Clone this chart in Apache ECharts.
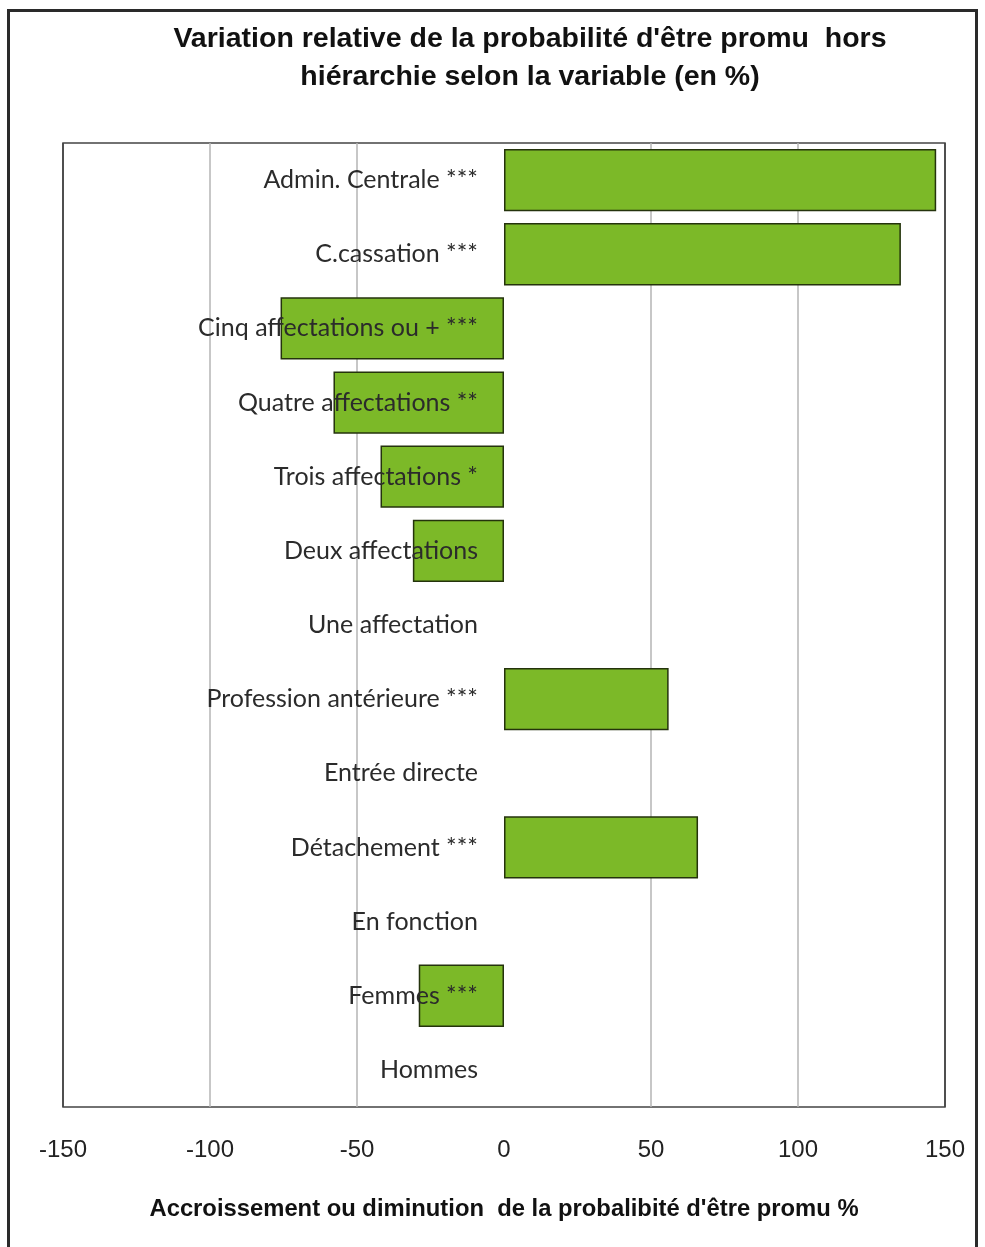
<!DOCTYPE html>
<html>
<head>
<meta charset="utf-8">
<script src="https://cdn.jsdelivr.net/npm/echarts@6/dist/echarts.min.js"></script>
<style>
html,body{margin:0;padding:0;background:#fff;}
#frame{position:absolute;left:7px;top:9px;width:971px;height:1260px;border:3px solid #2a2a2a;box-sizing:border-box;}
#chart{position:absolute;left:0;top:0;width:985px;height:1247px;}
</style>
</head>
<body>
<div id="frame"></div>
<div id="chart"></div>
<script>
const titleText = "Variation relative de la probabilité d'être promu  hors\nhiérarchie selon la variable (en %)";
const xAxisName = "Accroissement ou diminution  de la probalibité d'être promu %";
const categories = [
  "Admin. Centrale ***",
  "C.cassation ***",
  "Cinq affectations ou + ***",
  "Quatre affectations **",
  "Trois affectations *",
  "Deux affectations",
  "Une affectation",
  "Profession antérieure ***",
  "Entrée directe",
  "Détachement ***",
  "En fonction",
  "Femmes ***",
  "Hommes"
];
const values = [147, 135, -76, -58, -42, -31, 0, 56, 0, 66, 0, -29, 0];
const xMin = -150, xMax = 150, xInterval = 50;

const chart = echarts.init(document.getElementById('chart'), null, {renderer: 'canvas'});
const seriesData = values.map(v => v === 0 ? {value: 0, itemStyle: {borderWidth: 0}} : v);

chart.setOption({
  animation: false,
  backgroundColor: 'transparent',
  title: {
    text: titleText,
    left: 525,
    textAlign: 'center',
    top: 15,
    textStyle: {
      fontFamily: '"Liberation Sans", Arial, sans-serif',
      fontWeight: 'bold',
      fontSize: 28.5,
      lineHeight: 38,
      color: '#111'
    }
  },
  grid: {
    left: 63, right: 40, top: 143, bottom: 140,
    show: true, borderColor: '#444', borderWidth: 1.5, backgroundColor: 'transparent'
  },
  xAxis: {
    type: 'value',
    min: xMin, max: xMax, interval: xInterval,
    name: xAxisName,
    nameLocation: 'middle',
    nameGap: 90,
    nameTextStyle: {
      fontFamily: '"Liberation Sans", Arial, sans-serif',
      fontWeight: 'bold', fontSize: 23.8, color: '#111'
    },
    axisLine: {show: false},
    axisTick: {show: false},
    axisLabel: {
      margin: 31,
      fontFamily: '"Liberation Sans", Arial, sans-serif',
      fontSize: 24, color: '#222'
    },
    splitLine: {
      show: true,
      lineStyle: {color: ['#444', '#b5b5b5', '#b5b5b5', 'rgba(0,0,0,0)', '#b5b5b5', '#b5b5b5', '#444'], width: 1.5}
    }
  },
  yAxis: {
    type: 'category',
    data: categories,
    inverse: true,
    z: 10,
    axisLine: {show: false},
    axisTick: {show: false},
    axisLabel: {
      margin: -415,
      fontFamily: 'Lato, "Open Sans", sans-serif',
      fontSize: 25,
      color: '#2b2b2b'
    },
    splitLine: {show: false}
  },
  series: [{
    type: 'bar',
    data: seriesData,
    barWidth: '84%',
    itemStyle: {color: '#7cb928', borderColor: '#24330c', borderWidth: 1.5}
  }]
});
</script>
</body>
</html>
